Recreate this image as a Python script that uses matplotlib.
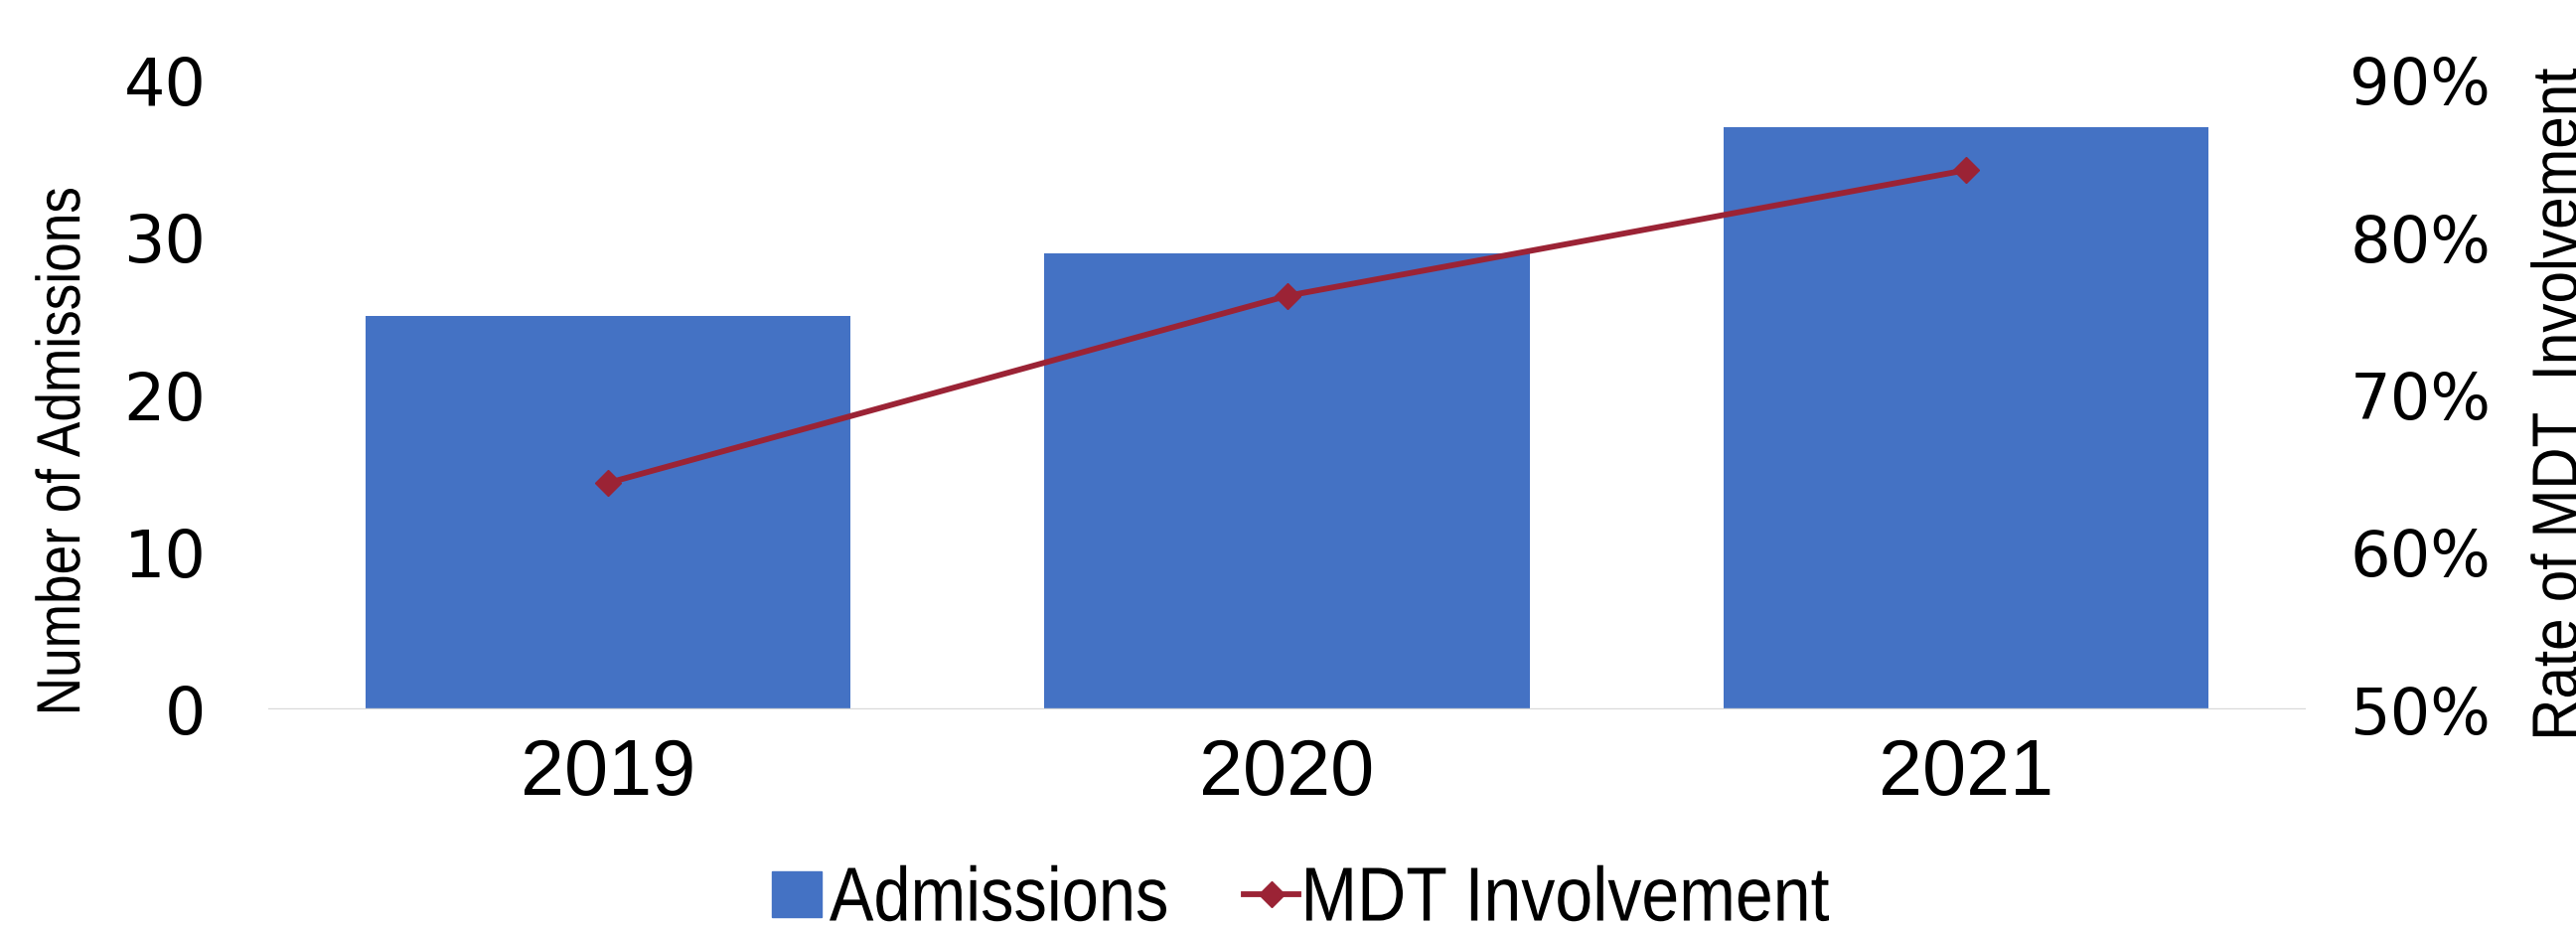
import matplotlib
matplotlib.use("Agg")
import matplotlib.pyplot as plt
from matplotlib.ticker import FuncFormatter
from matplotlib.lines import Line2D
from matplotlib.patches import Rectangle, PathPatch
from matplotlib.textpath import TextPath
from matplotlib.font_manager import FontProperties
from matplotlib.transforms import Affine2D

# data
years = ["2019", "2020", "2021"]
admissions = [25, 29, 37]
mdt_rate = [0.644, 0.763, 0.843]

left_ticks = [0, 10, 20, 30, 40]
right_ticks = [0.5, 0.6, 0.7, 0.8, 0.9]

bar_color = "#4472C4"
line_color = "#9B2335"

W, H = 2593, 934
fig = plt.figure(figsize=(W / 100, H / 100), dpi=100)
ax = fig.add_axes([270 / W, 1 - 714 / H, (2321 - 270) / W, (714 - 81) / H])

x = list(range(len(years)))
ax.bar(x, admissions, width=0.714, color=bar_color, zorder=2)
ax.axhline(0, color="#D9D9D9", lw=1.7, zorder=3)
ax.set_xlim(-0.5, 2.5)
ax.set_ylim(0, 40)
ax.set_yticks(left_ticks)
ax.set_xticks(x)
ax.set_xticklabels(years, fontsize=57, family="Liberation Sans")
ax.tick_params(axis="x", length=0, pad=20)
ax.tick_params(axis="y", length=0, pad=45, labelsize=47)

ax2 = ax.twinx()
ax2.plot(x, mdt_rate, color=line_color, lw=4.2, marker="D", ms=13, zorder=4)
ax2.set_ylim(0.5, 0.9)
ax2.set_yticks(right_ticks)
ax2.yaxis.set_major_formatter(FuncFormatter(lambda v, p: f"{v*100:.0f}%"))
ax2.tick_params(axis="y", length=0, pad=32, labelsize=46)

for a in (ax, ax2):
    for s in a.spines.values():
        s.set_visible(False)


# no narrow font installed: squeeze Liberation Sans into the given length
def narrow_text(s, cx, cy, length, em, rot=0):
    tp = TextPath((0, 0), s, size=em, prop=FontProperties(family="Liberation Sans"))
    ext = tp.get_extents()
    sx = length / ext.width
    tr = (Affine2D().translate(-(ext.x0 + ext.x1) / 2, -(ext.y0 + ext.y1) / 2)
          .scale(sx, 1).rotate_deg(rot).translate(cx, H - cy)
          .scale(1 / W, 1 / H) + fig.transFigure)
    fig.patches.append(PathPatch(tp, transform=tr, color="black", lw=0, figure=fig))


narrow_text("Number of Admissions", 58, 453, 526, 62, rot=90)
narrow_text("Rate of MDT  Involvement", 2571, 405, 672, 65, rot=90)

# legend
fig.patches.append(Rectangle((777 / W, 1 - 923 / H), 50 / W, 46 / H,
                             transform=fig.transFigure, color=bar_color, figure=fig))
narrow_text("Admissions", (835 + 1174) / 2, 899, 1174 - 835, 77)
fig.lines.append(Line2D([1252 / W, 1307 / W], [1 - 900 / H, 1 - 900 / H],
                        transform=fig.transFigure, color=line_color, lw=4.2, figure=fig))
fig.lines.append(Line2D([1280 / W], [1 - 900 / H], transform=fig.transFigure,
                        color=line_color, marker="D", ms=13, figure=fig))
narrow_text("MDT Involvement", (1315 + 1841) / 2, 899, 1841 - 1315, 77)

fig.savefig("out.png", dpi=100)
